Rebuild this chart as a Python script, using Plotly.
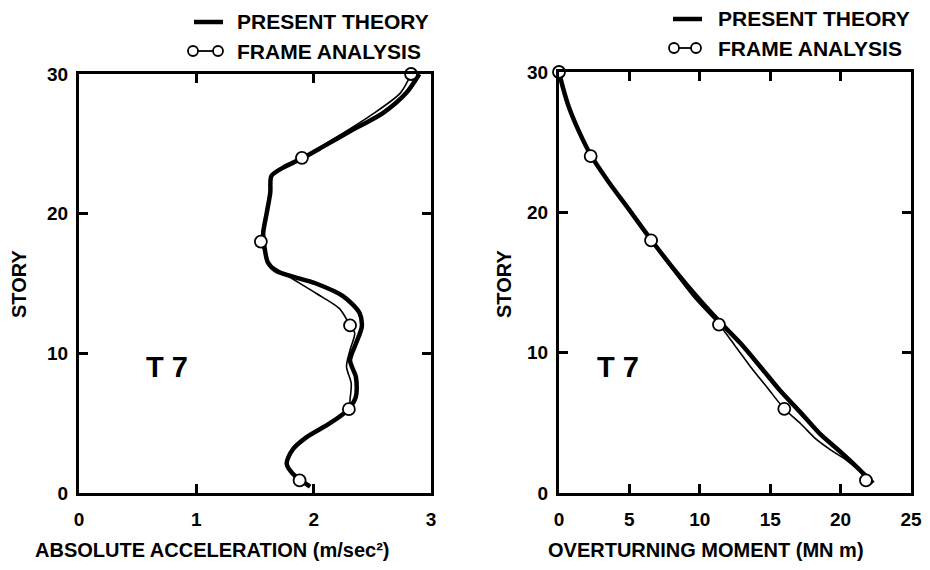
import plotly.graph_objects as go

# ---------------- data ----------------
# Left panel: absolute acceleration (m/sec^2) vs story
acc_theory_x = [2.90, 2.79, 2.59, 2.31, 2.08, 1.91, 1.74, 1.64, 1.63, 1.60, 1.57, 1.58, 1.61, 1.68, 2.02, 2.25, 2.39, 2.41, 2.36, 2.31, 2.36, 2.36, 2.29, 2.14, 1.94, 1.82, 1.77, 1.82, 1.97]
acc_theory_y = [30.0, 28.65, 27.2, 25.9, 24.8, 24.0, 23.3, 22.7, 21.5, 20.05, 18.6, 17.65, 16.5, 15.9, 15.0, 14.1, 12.9, 11.9, 10.7, 9.5, 8.3, 6.9, 5.95, 5.0, 4.0, 3.1, 2.1, 1.4, 0.45]
acc_frame_curve_x = [2.83, 2.74, 2.48, 2.18, 1.90, 1.74, 1.64, 1.63, 1.60, 1.55, 1.58, 1.61, 1.74, 2.02, 2.22, 2.31, 2.35, 2.31, 2.28, 2.32, 2.31, 2.30, 2.14, 1.94, 1.82, 1.77, 1.82, 1.88]
acc_frame_curve_y = [30.0, 28.65, 27.0, 25.4, 24.0, 23.3, 22.7, 21.5, 20.05, 18.0, 17.3, 16.5, 15.75, 14.3, 13.2, 12.0, 11.45, 10.25, 9.05, 7.85, 6.7, 6.0, 5.0, 4.0, 3.1, 2.1, 1.4, 0.9]
acc_frame_nodes_x = [2.83, 1.90, 1.55, 2.31, 2.30, 1.88]
frame_nodes_story = [30, 24, 18, 12, 6, 0.9]

# Right panel: overturning moment (MN m) vs story
mom_theory_x = [0.0, 0.25, 0.7, 1.4, 2.3, 3.5, 4.9, 6.5, 8.2, 10.0, 11.6, 12.86, 14.3, 15.7, 17.1, 18.5, 19.8, 21.1, 22.3]
mom_theory_y = [30.0, 29.0, 27.5, 25.8, 24.0, 22.2, 20.3, 18.1, 15.9, 13.75, 12.0, 10.7, 9.0, 7.3, 5.8, 4.25, 3.1, 1.9, 0.7]
mom_frame_curve_x = [0.0, 0.25, 0.7, 1.4, 2.25, 3.5, 4.9, 6.54, 8.0, 9.7, 11.36, 12.5, 13.6, 14.8, 16.0, 17.2, 18.3, 19.4, 20.4, 21.2, 21.8]
mom_frame_curve_y = [30.0, 29.0, 27.5, 25.8, 24.0, 22.1, 20.2, 18.0, 16.0, 13.8, 12.0, 10.5, 9.0, 7.5, 6.0, 4.9, 3.8, 3.0, 2.35, 1.7, 1.1]
mom_frame_nodes_x = [0.0, 2.25, 6.54, 11.36, 16.0, 21.8]

acc_ticks = [0, 1, 2, 3]
mom_ticks = [0, 5, 10, 15, 20, 25]
story_ticks = [0, 10, 20, 30]

legend_labels = ["PRESENT THEORY", "FRAME ANALYSIS"]
panel_label = "T 7"
x_titles = ["ABSOLUTE ACCELERATION (m/sec²)", "OVERTURNING MOMENT (MN m)"]
y_title = "STORY"

# ---------------- figure ----------------
W, H = 930, 570
OFF = 8  # page body margin in the browser
FONT = "Liberation Sans"
fig = go.Figure()

def add_panel(xa, ya, tx, ty, fx, fy, nx):
    fig.add_trace(go.Scatter(x=tx, y=ty, xaxis=xa, yaxis=ya, mode="lines",
                             line=dict(color="black", width=4.5, shape="spline", smoothing=0.8),
                             showlegend=False, hoverinfo="skip", cliponaxis=False))
    fig.add_trace(go.Scatter(x=fx, y=fy, xaxis=xa, yaxis=ya, mode="lines",
                             line=dict(color="black", width=1.6, shape="spline", smoothing=0.8),
                             showlegend=False, hoverinfo="skip", cliponaxis=False))
    fig.add_trace(go.Scatter(x=nx, y=frame_nodes_story, xaxis=xa, yaxis=ya, mode="markers",
                             marker=dict(symbol="circle", size=12, color="white",
                                         line=dict(color="black", width=1.8)),
                             showlegend=False, cliponaxis=False))

add_panel("x", "y", acc_theory_x, acc_theory_y, acc_frame_curve_x, acc_frame_curve_y, acc_frame_nodes_x)
add_panel("x2", "y2", mom_theory_x, mom_theory_y, mom_frame_curve_x, mom_frame_curve_y, mom_frame_nodes_x)

axis_common = dict(showline=True, linecolor="black", linewidth=3, mirror="ticks",
                   ticks="inside", ticklen=9, tickwidth=3, tickcolor="black",
                   showgrid=False, zeroline=False, automargin=False,
                   tickfont=dict(family=FONT, size=19, color="black", weight="bold"))

def px_x(p):
    return (p - OFF) / W

def px_y(p):
    return 1 - (p - OFF) / H

fig.update_layout(
    width=W, height=H, margin=dict(l=0, r=0, t=0, b=0, autoexpand=False),
    paper_bgcolor="white", plot_bgcolor="white", showlegend=False,
    xaxis=dict(domain=[px_x(79), px_x(431)], range=[0, 3], tickvals=acc_ticks,
               anchor="y", ticklabelstandoff=7, **axis_common),
    yaxis=dict(domain=[px_y(493), px_y(74)], range=[0, 30], tickvals=story_ticks,
               anchor="x", ticklabelstandoff=4, **axis_common),
    xaxis2=dict(domain=[px_x(559), px_x(911)], range=[0, 25], tickvals=mom_ticks,
                anchor="y2", ticklabelstandoff=7, **axis_common),
    yaxis2=dict(domain=[px_y(493), px_y(72)], range=[0, 30], tickvals=story_ticks,
                anchor="x2", ticklabelstandoff=4, **axis_common),
)

ann_font = dict(family=FONT, size=20, color="black", weight="bold")
leg_font = dict(family=FONT, size=21, color="black", weight="bold")
annotations = []
# axis titles
annotations.append(dict(text=x_titles[0], x=px_x(212), y=px_y(550), xref="paper", yref="paper",
                        showarrow=False, font=ann_font, xanchor="center", yanchor="middle"))
annotations.append(dict(text=x_titles[1], x=px_x(706), y=px_y(550), xref="paper", yref="paper",
                        showarrow=False, font=ann_font, xanchor="center", yanchor="middle"))
annotations.append(dict(text=y_title, x=px_x(19), y=px_y(284), xref="paper", yref="paper",
                        showarrow=False, font=ann_font, textangle=-90, xanchor="center", yanchor="middle"))
annotations.append(dict(text=y_title, x=px_x(504), y=px_y(284), xref="paper", yref="paper",
                        showarrow=False, font=ann_font, textangle=-90, xanchor="center", yanchor="middle"))
# panel labels
annotations.append(dict(text=panel_label, x=0.75, y=9.0, xref="x", yref="y", showarrow=False,
                        font=dict(family=FONT, size=29, color="black", weight="bold")))
annotations.append(dict(text=panel_label, x=4.19, y=9.0, xref="x2", yref="y2", showarrow=False,
                        font=dict(family=FONT, size=29, color="black", weight="bold")))

# legends: (text x, line x0, line x1, circle1 cx, circle2 cx, row1 y, row2 y)
legend_pos = [(235, 194, 223, 193, 218, 22, 51), (716, 673, 702, 674, 696, 19, 48)]
shapes = []
r = 5
for tx, l0, l1, ca, cb, y_line, y_frame in legend_pos:
    annotations.append(dict(text=legend_labels[0], x=px_x(tx), y=px_y(y_line), xref="paper", yref="paper",
                            showarrow=False, font=leg_font, xanchor="left", yanchor="middle"))
    annotations.append(dict(text=legend_labels[1], x=px_x(tx), y=px_y(y_frame), xref="paper", yref="paper",
                            showarrow=False, font=leg_font, xanchor="left", yanchor="middle"))
    shapes.append(dict(type="line", xref="paper", yref="paper", x0=px_x(l0), x1=px_x(l1),
                       y0=px_y(y_line), y1=px_y(y_line), line=dict(color="black", width=4.5)))
    shapes.append(dict(type="line", xref="paper", yref="paper", x0=px_x(ca + r), x1=px_x(cb - r),
                       y0=px_y(y_frame), y1=px_y(y_frame), line=dict(color="black", width=1.8)))
    for cx in (ca, cb):
        shapes.append(dict(type="circle", xref="paper", yref="paper",
                           x0=px_x(cx - r), x1=px_x(cx + r), y0=px_y(y_frame + r), y1=px_y(y_frame - r),
                           line=dict(color="black", width=1.8), fillcolor="white"))

fig.update_layout(annotations=annotations, shapes=shapes)
fig.write_html("out.html")
